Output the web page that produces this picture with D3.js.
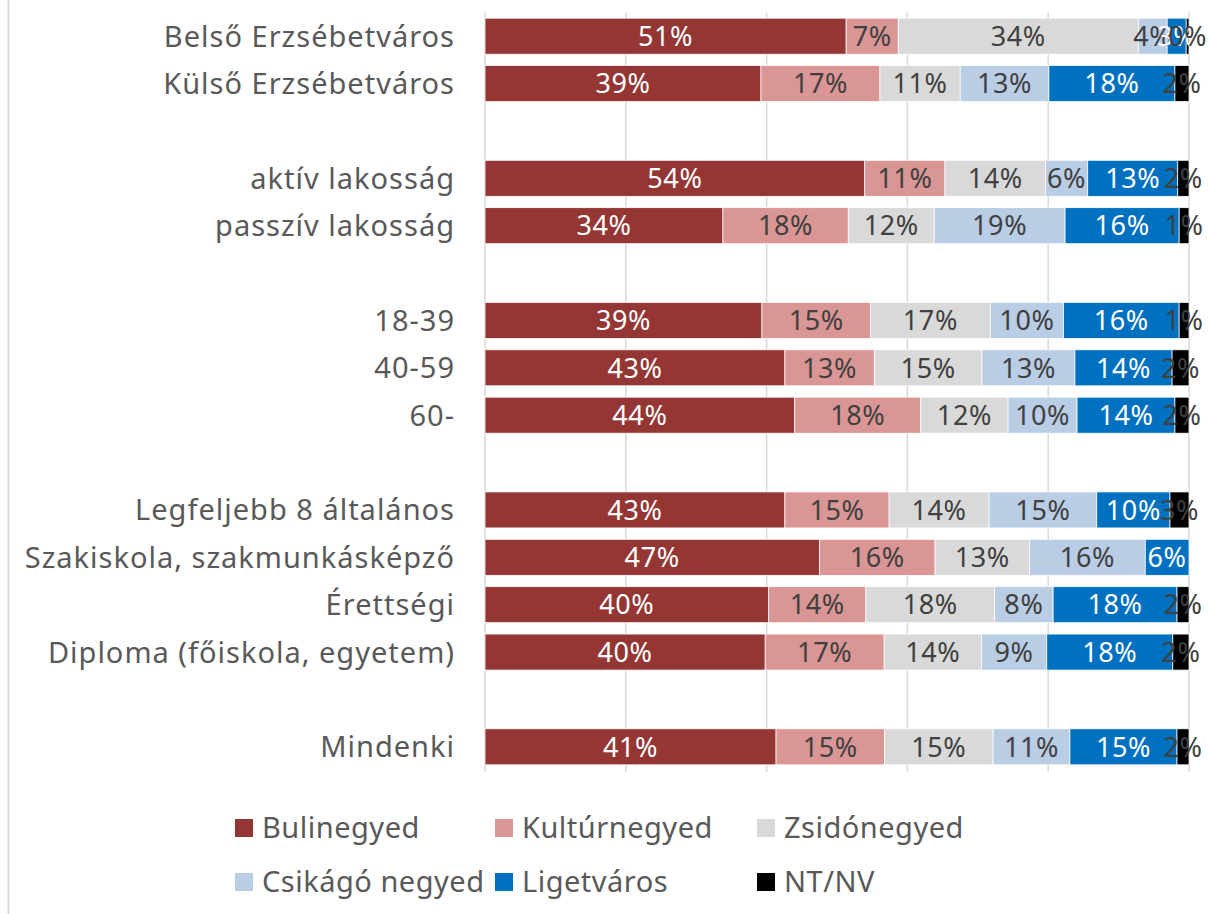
<!DOCTYPE html>
<html>
<head>
<meta charset="utf-8">
<script src="https://cdn.jsdelivr.net/npm/d3@7"></script>
<style>
  body { margin: 0; background: #fff; }
  svg { display: block; font-family: "Noto Sans", sans-serif; }
</style>
</head>
<body>
<div id="chart"></div>
<script>
// rows; "" marks an empty spacer slot
const categories = [
  "Belső Erzsébetváros", "Külső Erzsébetváros", "",
  "aktív lakosság", "passzív lakosság", "",
  "18-39", "40-59", "60-", "",
  "Legfeljebb 8 általános", "Szakiskola, szakmunkásképző", "Érettségi", "Diploma (főiskola, egyetem)", "",
  "Mindenki"
];
const seriesNames = ["Bulinegyed", "Kultúrnegyed", "Zsidónegyed", "Csikágó negyed", "Ligetváros", "NT/NV"];
const seriesColors = ["#943634", "#d99694", "#d9d9d9", "#b9cde5", "#0070c0", "#000000"];
const labelColors = ["#ffffff", "#404040", "#404040", "#404040", "#ffffff", "#404040"];

// percentages per row, null for spacer rows
const bulinegyed    = [51.3, 39.2, null, 54.0, 33.8, null, 39.3, 42.6, 44.0, null, 42.6, 47.4, 40.3, 39.8, null, 41.3];
const kulturnegyed  = [7.4, 16.9, null, 11.4, 17.8, null, 15.4, 12.7, 17.9, null, 14.8, 16.4, 13.8, 16.9, null, 15.4];
const zsidonegyed   = [34.1, 11.4, null, 14.3, 12.2, null, 17.0, 15.3, 12.4, null, 14.2, 13.4, 18.3, 13.8, null, 15.4];
const csikago       = [4.1, 12.6, null, 6.0, 18.6, null, 10.4, 13.2, 9.8, null, 15.3, 16.4, 8.3, 9.3, null, 10.9];
const ligetvaros    = [2.7, 17.9, null, 12.8, 16.2, null, 16.4, 13.8, 13.9, null, 10.4, 6.2, 17.6, 17.9, null, 15.2];
const ntnv          = [0.4, 2.0, null, 1.6, 1.4, null, 1.4, 2.4, 2.0, null, 2.7, 0, 1.7, 2.3, null, 1.7];
const xTicks = [0, 0.2, 0.4, 0.6, 0.8, 1];

const seriesValues = [bulinegyed, kulturnegyed, zsidonegyed, csikago, ligetvaros, ntnv];

const width = 1208, height = 914;
const svg = d3.select("#chart").append("svg")
  .attr("width", width).attr("height", height);

// outer frame line on the left
svg.append("line")
  .attr("x1", 8.5).attr("x2", 8.5).attr("y1", 0).attr("y2", height)
  .attr("stroke", "#d9d9d9").attr("stroke-width", 2);

const x = d3.scaleLinear().domain([0, 1]).range([485, 1189]);
const y = d3.scaleBand().domain(d3.range(categories.length)).range([12.5, 770.5]).paddingInner(0.24).paddingOuter(0.12);

// table for stacking
const rows = categories.map((c, i) => {
  const r = { idx: i, name: c };
  seriesNames.forEach((s, k) => r[s] = seriesValues[k][i] || 0);
  return r;
}).filter(r => r.name !== "");

const stack = d3.stack().keys(seriesNames).offset(d3.stackOffsetExpand);
const stacked = stack(rows);

// gridlines
svg.append("g").selectAll("line")
  .data(xTicks)
  .join("line")
    .attr("x1", d => x(d)).attr("x2", d => x(d))
    .attr("y1", 12.5).attr("y2", 772)
    .attr("stroke", "#d9d9d9").attr("stroke-width", 1.5);

// bars
const layer = svg.append("g").selectAll("g")
  .data(stacked)
  .join("g")
    .attr("fill", (d, i) => seriesColors[i]);

layer.selectAll("rect")
  .data(d => d)
  .join("rect")
    .attr("x", d => x(d[0]))
    .attr("width", d => Math.max(0, x(d[1]) - x(d[0])))
    .attr("y", d => y(d.data.idx))
    .attr("height", y.bandwidth())
    .attr("stroke", "#fff")
    .attr("stroke-width", 0.75);

// value labels
stacked.forEach((s, k) => {
  svg.append("g").selectAll("text")
    .data(s.filter(d => d.data[seriesNames[k]] > 0))
    .join("text")
      .attr("x", d => (x(d[0]) + x(d[1])) / 2)
      .attr("y", d => y(d.data.idx) + y.bandwidth() / 2)
      .attr("dy", "0.36em")
      .attr("text-anchor", "middle")
      .attr("fill", labelColors[k])
      .style("font-size", "27px")
      .style("letter-spacing", "0.6px")
      .text(d => d3.format(".0f")(d.data[seriesNames[k]]) + "%");
});

// category labels
svg.append("g").selectAll("text")
  .data(rows)
  .join("text")
    .attr("x", 455)
    .attr("y", d => y(d.idx) + y.bandwidth() / 2)
    .attr("dy", "0.36em")
    .attr("text-anchor", "end")
    .attr("fill", "#595959")
    .style("font-size", "29px")
    .style("letter-spacing", "1px")
    .text(d => d.name);

// legend
const legendX = [235, 495, 757];
const legendY = [828, 882];
const legend = svg.append("g").selectAll("g")
  .data(seriesNames)
  .join("g")
    .attr("transform", (d, i) => `translate(${legendX[i % 3]},${legendY[Math.floor(i / 3)]})`);

legend.append("rect")
  .attr("x", 0).attr("y", -9).attr("width", 18).attr("height", 18)
  .attr("fill", (d, i) => seriesColors[i]);

legend.append("text")
  .attr("x", 27).attr("dy", "0.36em")
  .attr("fill", "#595959")
  .style("font-size", "29px")
  .style("letter-spacing", "0.5px")
  .text(d => d);
</script>
</body>
</html>
